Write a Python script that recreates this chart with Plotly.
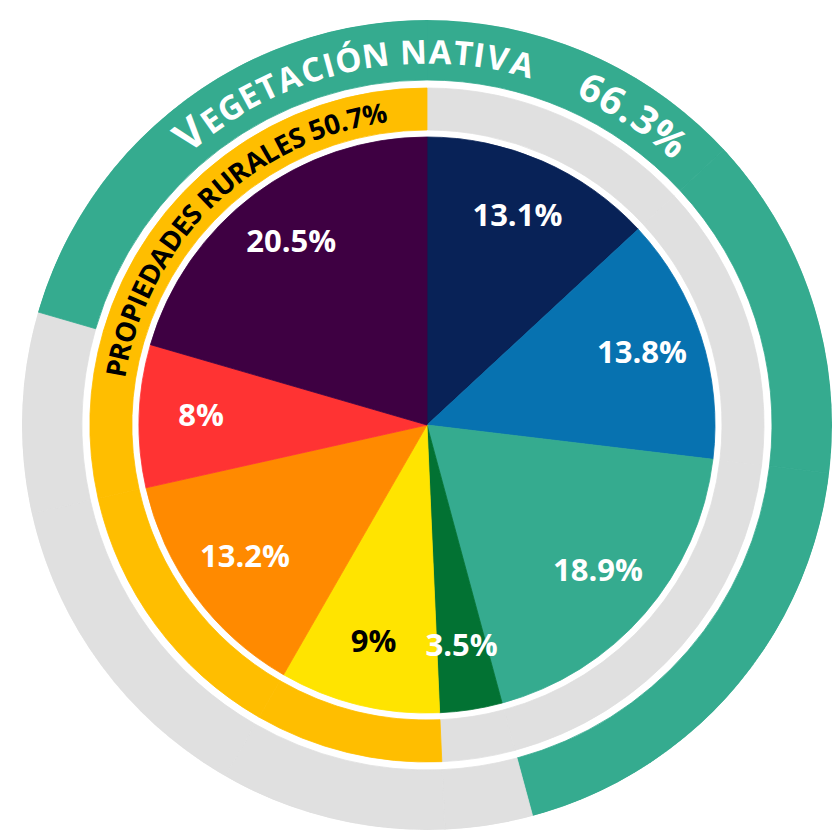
import numpy as np
import plotly.graph_objects as go

# slices, clockwise from 12 o'clock
labels = ["13.1%", "13.8%", "18.9%", "3.5%", "9%", "13.2%", "8%", "20.5%"]
values = [13.1, 13.8, 18.9, 3.5, 9.0, 13.2, 8.0, 20.5]
colors = ["#082257", "#0772b0", "#35ab8f", "#027233",
          "#ffe400", "#ff8a00", "#ff3333", "#3e0042"]
label_colors = ["white", "white", "white", "white", "black", "white", "white", "white"]

# which slices each outer band covers
rural = [False, False, False, False, True, True, True, True]    # propiedades rurales
native = [True, True, True, False, False, False, False, True]   # vegetacion nativa

GRAY = "#e0e0e0"
RING_ORANGE = "#ffbe00"
RING_GREEN = "#35ab8f"
FONT = "Open Sans"

W, H = 832, 835
CX, CY = 427, 425      # centre of the disc in px
R_MAX = 405            # polar radius in px (1 radial unit = 1 px)

# rough advance widths of Open Sans Bold, in em
CHAR_W = {" ": 0.26, "%": 0.90, ".": 0.30, "A": 0.72, "C": 0.64, "D": 0.74, "E": 0.55,
          "G": 0.73, "I": 0.34, "L": 0.55, "N": 0.80, "O": 0.78, "Ó": 0.78, "P": 0.64,
          "R": 0.68, "S": 0.56, "T": 0.57, "U": 0.74, "V": 0.68}
for d in "0123456789":
    CHAR_W[d] = 0.57

total = sum(values)
spans = np.array(values) / total * 360
starts = np.cumsum(spans) - spans
mids = starts + spans / 2

fig = go.Figure()

# inner pie
fig.add_trace(go.Barpolar(theta=mids, width=spans, base=0, r=[288] * len(values),
                          marker=dict(color=colors, line=dict(color=colors, width=0.8)),
                          hoverinfo="skip"))
# middle band: propiedades rurales
mid_col = [RING_ORANGE if f else GRAY for f in rural]
fig.add_trace(go.Barpolar(theta=mids, width=spans, base=295, r=[42] * len(values),
                          marker=dict(color=mid_col, line=dict(color=mid_col, width=0.8)),
                          hoverinfo="skip"))
# outer band: vegetacion nativa
out_col = [RING_GREEN if f else GRAY for f in native]
fig.add_trace(go.Barpolar(theta=mids, width=spans, base=345, r=[R_MAX - 345] * len(values),
                          marker=dict(color=out_col, line=dict(color=out_col, width=0.8)),
                          hoverinfo="skip"))

# slice labels
fig.add_trace(go.Scatterpolar(theta=mids, r=[226] * len(values), mode="text", text=labels,
                              textfont=dict(family=FONT, size=31, color=label_colors, weight=700),
                              hoverinfo="skip"))


def arc_text(runs, start_deg, r_base, color):
    # lay characters one by one along a clockwise arc
    anns = []
    R = r_base + 10
    ang = np.radians(start_deg)
    for text, size, track in runs:
        for ch in text:
            w = CHAR_W.get(ch, 0.6) * size + track
            th = ang + (w / 2) / R
            rc = r_base + 0.36 * size
            x = CX + rc * np.sin(th)
            y = CY - rc * np.cos(th)
            if ch != " ":
                anns.append(dict(x=x / W, y=1 - y / H, xref="paper", yref="paper", text=ch,
                                 showarrow=False, textangle=float(np.degrees(th)),
                                 xanchor="center", yanchor="middle",
                                 font=dict(family=FONT, size=size, color=color, weight=700)))
            ang += w / R
    return anns


native_pct = sum(v for v, f in zip(values, native) if f)
rural_pct = sum(v for v, f in zip(values, rural) if f)

anns = []
anns += arc_text([("V", 42, 1.5), ("EGETACIÓN NATIVA", 33, 1.6), ("  ", 38, 14),
                  (f"{native_pct:.1f}%", 39, 2)], -41.5, 362, "white")
anns += arc_text([(f"PROPIEDADES RURALES {rural_pct:.1f}%", 27.5, 0)], -81.3, 306, "black")

fig.update_layout(
    width=W, height=H,
    margin=dict(l=0, r=0, t=0, b=0),
    paper_bgcolor="white",
    showlegend=False,
    annotations=anns,
    polar=dict(
        domain=dict(x=[(CX - R_MAX) / W, (CX + R_MAX) / W],
                    y=[1 - (CY + R_MAX) / H, 1 - (CY - R_MAX) / H]),
        bgcolor="white",
        hole=0,
        radialaxis=dict(range=[0, R_MAX], visible=False),
        angularaxis=dict(rotation=90, direction="clockwise", visible=False),
    ),
)

fig.write_html("out.html", config={"displayModeBar": False},
               post_script="document.body.style.margin='0';document.body.style.overflow='hidden';")
